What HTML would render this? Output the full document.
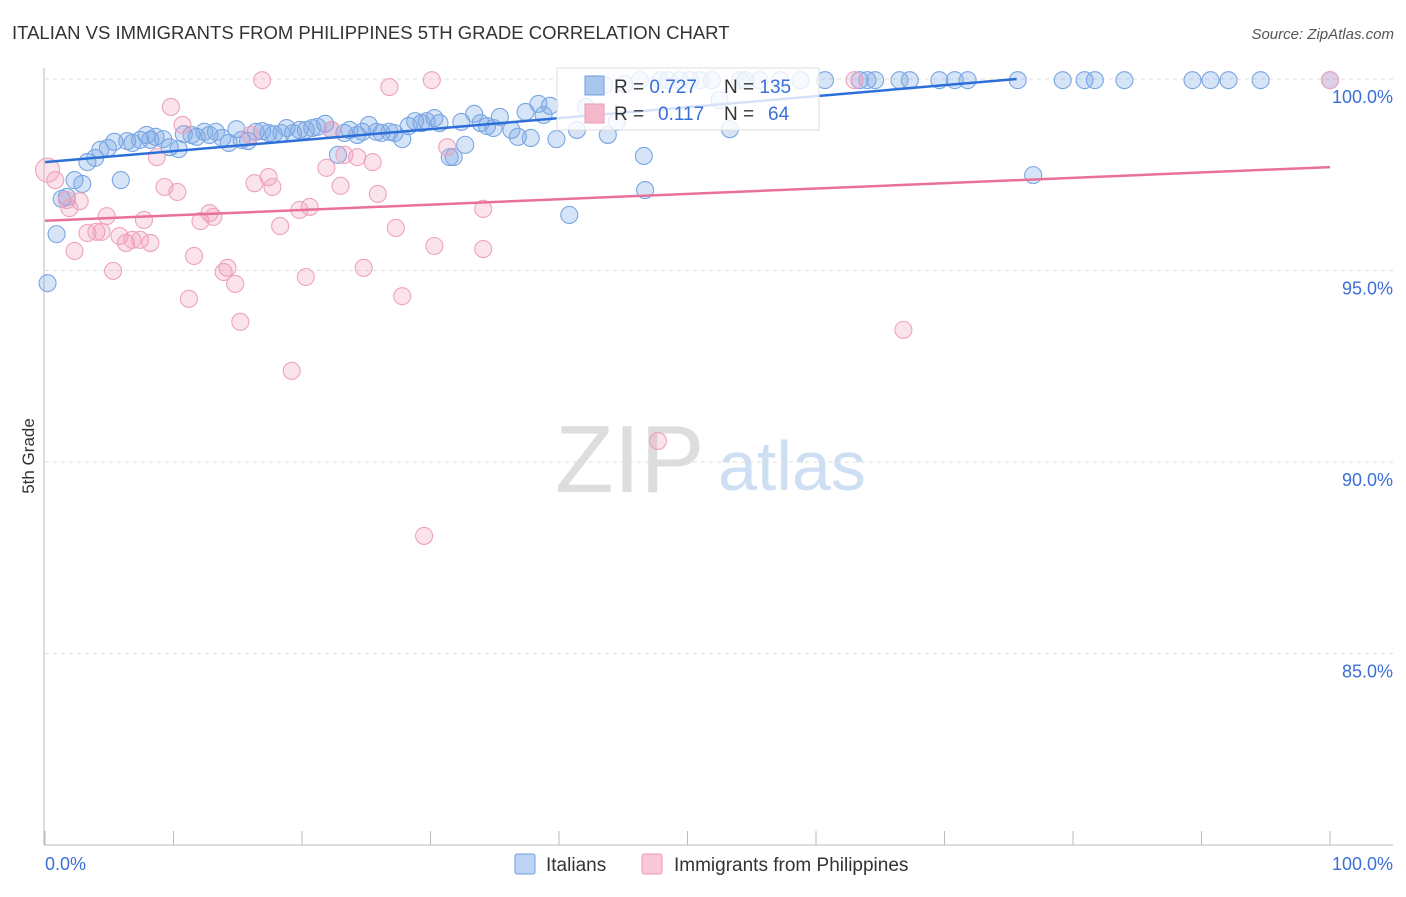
<!DOCTYPE html>
<html><head><meta charset="utf-8"><style>
body{margin:0;background:#fff;font-family:"Liberation Sans",sans-serif}
svg text{font-family:"Liberation Sans",sans-serif}
</style></head><body>
<svg id="c" width="1406" height="892">
<text x="12" y="39" font-size="18.5" fill="#333">ITALIAN VS IMMIGRANTS FROM PHILIPPINES 5TH GRADE CORRELATION CHART</text>
<text x="1394" y="39" font-size="15" fill="#555" text-anchor="end" font-style="italic">Source: ZipAtlas.com</text>
<text x="34" y="456" font-size="17" fill="#333" transform="rotate(-90 34 456)" text-anchor="middle">5th Grade</text>
<text x="555" y="492" font-size="96" fill="#ddd" font-family="Liberation Serif">ZIP</text>
<text x="718" y="490" font-size="70" fill="#cfdff3">atlas</text>
<g id="grid"></g><g id="axes"></g><g id="pts"></g><g id="trend"></g>
<g>
<rect x="557" y="68" width="262" height="62" fill="#fff" fill-opacity="0.8" stroke="#ddd"/>
<rect x="585" y="76" width="19" height="19" fill="#a9c6ef" stroke="#6f9fe0"/>
<rect x="585" y="104" width="19" height="19" fill="#f5b8cb" stroke="#eb9bb5"/>
<text x="614" y="93" font-size="19" fill="#333">R = <tspan fill="#3a6fd8">0.727</tspan><tspan x="724">N = </tspan><tspan fill="#3a6fd8">135</tspan></text>
<text x="614" y="120" font-size="19" fill="#333">R = <tspan x="658" fill="#3a6fd8">0.117</tspan><tspan x="724">N = </tspan><tspan x="768" fill="#3a6fd8">64</tspan></text>
</g>
<g>
<rect x="515" y="854" width="20" height="20" rx="2" fill="#bcd3f3" stroke="#6f9fe0"/>
<text x="546" y="871" font-size="19" fill="#333">Italians</text>
<rect x="642" y="854" width="20" height="20" rx="2" fill="#f8c8d6" stroke="#eb9bb5"/>
<text x="674" y="871" font-size="19" fill="#333">Immigrants from Philippines</text>
</g>
<text x="45" y="870" font-size="18" fill="#3a6fd8">0.0%</text>
<text x="1393" y="870" font-size="18" fill="#3a6fd8" text-anchor="end">100.0%</text>
</svg>
<script>
const blueX=[0.2,0.9,1.3,1.7,2.3,2.9,3.3,3.9,4.3,4.9,5.4,5.9,6.4,6.8,7.4,7.9,8.2,8.6,9.2,9.7,10.4,10.8,11.4,11.8,12.4,12.8,13.3,13.8,14.3,14.9,15.3,15.8,16.4,16.9,17.4,17.8,18.4,18.8,19.3,19.8,20.3,20.8,21.2,21.8,22.3,22.8,23.3,23.7,24.3,24.7,25.2,25.8,26.2,26.8,27.2,27.8,28.3,28.8,29.3,29.7,30.3,30.7,31.5,31.8,32.4,32.7,33.4,33.9,34.4,34.9,35.4,36.3,36.8,37.4,37.8,38.4,38.8,39.3,39.8,40.8,41.4,42.1,42.7,43.5,43.8,44.5,45.1,46.3,46.6,46.7,47.9,48.5,49.4,50.2,51,51.9,52.5,53.3,54.1,54.5,55.6,57.2,58.8,60.7,63.4,64,64.6,66.5,67.3,69.6,70.8,71.8,75.7,76.9,79.2,80.9,81.7,84,89.3,90.7,92.1,94.6,100];
const blueY=[94.67,95.95,96.87,96.92,97.36,97.26,97.83,97.94,98.15,98.2,98.36,97.36,98.38,98.33,98.41,98.54,98.41,98.49,98.43,98.22,98.17,98.56,98.54,98.49,98.62,98.54,98.62,98.46,98.33,98.69,98.41,98.38,98.62,98.64,98.59,98.56,98.59,98.72,98.59,98.67,98.67,98.72,98.75,98.83,98.67,98.02,98.59,98.67,98.54,98.62,98.8,98.62,98.59,98.62,98.59,98.43,98.77,98.9,98.85,98.9,98.98,98.85,97.96,97.96,98.88,98.28,99.09,98.85,98.77,98.72,99.01,98.67,98.49,99.14,98.46,99.35,99.06,99.3,98.43,96.45,98.67,99.27,99.87,99.84,98.54,98.88,99.87,99.97,97.99,97.1,99.97,99.97,99.97,99.97,99.97,99.97,99.45,98.69,99.97,99.97,99.97,99.97,99.97,99.97,99.97,99.97,99.97,99.97,99.97,99.97,99.97,99.97,99.97,97.49,99.97,99.97,99.97,99.97,99.97,99.97,99.97,99.97,99.97];
const pinkX=[0.2,0.8,1.7,1.9,2.7,2.3,3.3,4,4.4,4.8,5.3,5.8,6.3,6.8,7.4,7.7,8.2,8.7,9.3,9.8,10.3,10.7,11.2,11.6,12.1,12.8,13.1,13.9,14.2,14.8,15.2,16.3,16.9,17.4,17.7,18.3,19.2,19.8,20.3,20.6,21.9,22.3,23,23.3,24.3,24.8,25.5,25.9,26.8,27.3,27.8,29.5,30.1,30.3,31.3,34.1,34.1,47.7,63,66.8,100,16];
const pinkY=[97.62,97.36,96.84,96.63,96.81,95.51,95.98,96.01,96.01,96.42,94.99,95.9,95.72,95.8,95.8,96.32,95.72,97.96,97.18,99.27,97.05,98.8,94.26,95.38,96.29,96.5,96.4,94.96,95.07,94.65,93.66,97.28,99.97,97.44,97.18,96.16,92.38,96.58,94.83,96.66,97.68,98.67,97.21,98.02,97.96,95.07,97.83,97,99.79,96.11,94.33,88.07,99.97,95.64,98.22,96.61,95.56,90.55,99.97,93.45,99.97,98.54];
const blueTrend=[97.83,0.0287];
const pinkTrend=[96.3,0.014];
const yTicks=[100,95,90,85];
const NS='http://www.w3.org/2000/svg';
const X=v=>45+v*12.85, Y=v=>79+(100-v)*38.3;
function mk(t,a,p){const e=document.createElementNS(NS,t);for(const k in a)e.setAttribute(k,a[k]);document.getElementById(p).appendChild(e);return e;}
yTicks.forEach(t=>{
 const l=mk('line',{x1:45,x2:1393,y1:Y(t),y2:Y(t),stroke:'#ddd','stroke-dasharray':'4,4'},'grid');
 
 
 const tx=mk('text',{x:1393,y:Y(t)+24,'font-size':18,fill:'#3a6fd8','text-anchor':'end'},'grid');
 tx.textContent=t.toFixed(1)+'%';
 
 
});
let ax=mk('line',{x1:44,x2:44,y1:68,y2:845,stroke:'#bbb'},'axes');


ax=mk('line',{x1:44,x2:1393,y1:845,y2:845,stroke:'#bbb'},'axes');


for(let i=0;i<=10;i++){const t=mk('line',{x1:X(i*10),x2:X(i*10),y1:831,y2:845,stroke:'#bbb'},'axes');
 
 }
blueX.forEach((v,i)=>{const c=mk('circle',{cx:X(v),cy:Y(blueY[i]),r:8.5,fill:'rgba(120,165,230,0.3)',stroke:'#7aa6e3','stroke-width':1.1},'pts');
 
 });
pinkX.forEach((v,i)=>{const c=mk('circle',{cx:X(v),cy:Y(pinkY[i]),r:i==0?12:8.5,fill:'rgba(240,155,185,0.28)',stroke:'#eea3bc','stroke-width':1.1},'pts');
 
 });
const bEnd=(100-blueTrend[0])/blueTrend[1];
let tl=mk('line',{x1:X(0),y1:Y(blueTrend[0]),x2:X(bEnd),y2:Y(100),stroke:'#2d6fd8','stroke-width':2.5},'trend');


tl=mk('line',{x1:X(0),y1:Y(pinkTrend[0]),x2:X(100),y2:Y(pinkTrend[0]+100*pinkTrend[1]),stroke:'#e8709a','stroke-width':2.5},'trend');


</script>
</body></html>
